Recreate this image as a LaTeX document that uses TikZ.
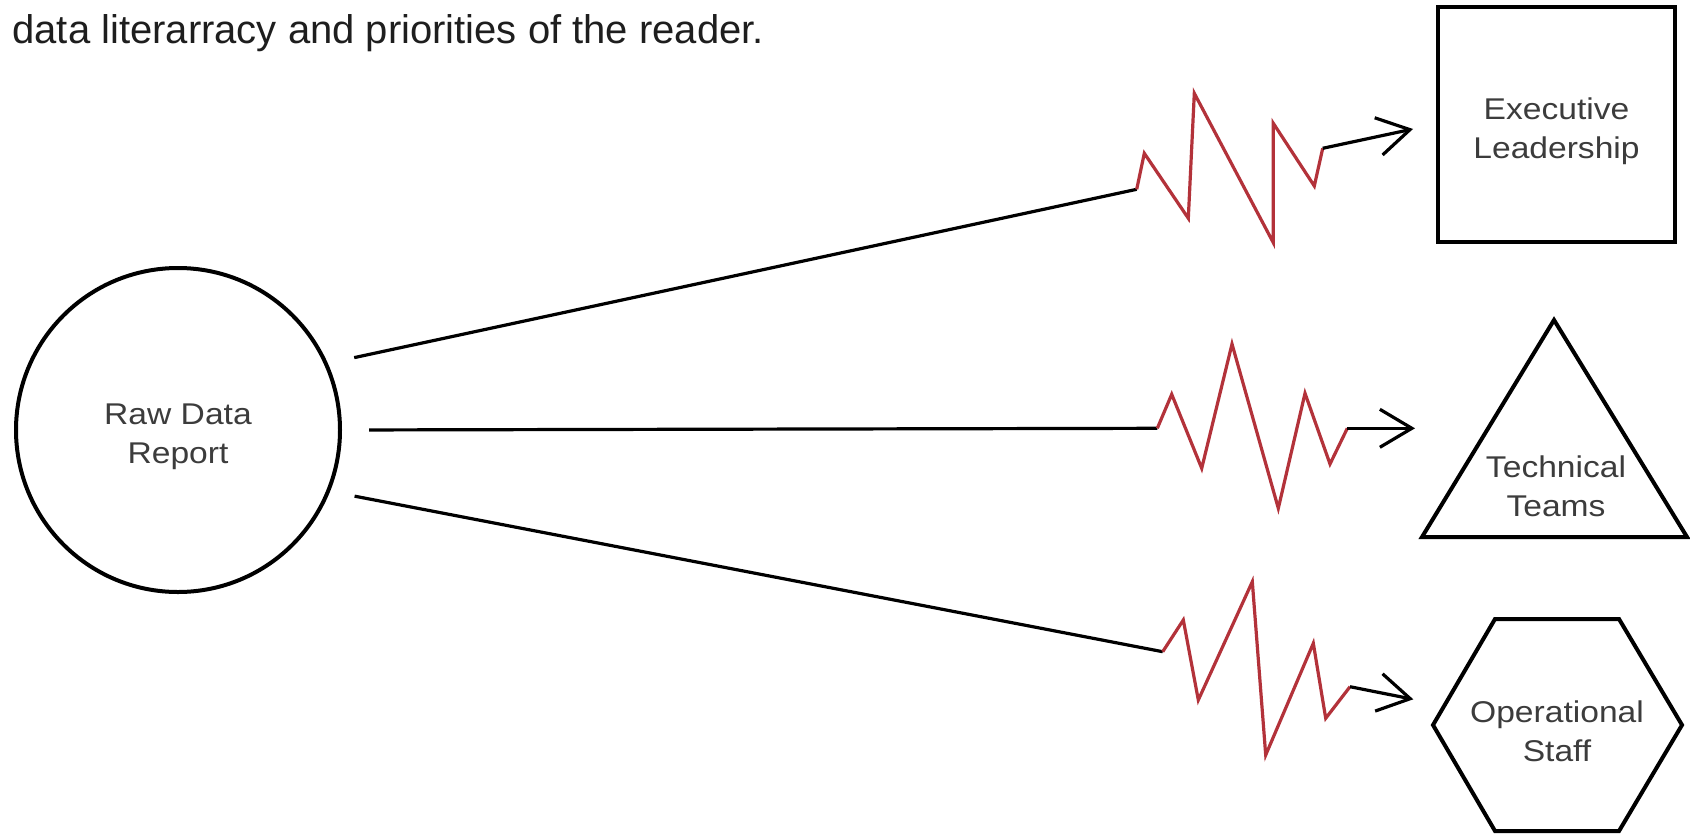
\documentclass[tikz,border=0pt]{standalone}
\usepackage{fontspec}
\setmainfont{Liberation Sans}
\newfontfamily\labfont[FakeStretch=1.12]{Liberation Sans}
\usetikzlibrary{arrows.meta}
\definecolor{zig}{HTML}{B3323A}
\definecolor{labgray}{HTML}{3C3C3C}
\definecolor{introcol}{HTML}{1E1E1E}
\begin{document}
\begin{tikzpicture}[x=0.5pt,y=-0.5pt,
  conn/.style={line width=1.6pt, draw=black},
  zz/.style={line width=1.6pt, draw=zig, line join=miter},
  arr/.style={conn, -{Straight Barb[length=16pt,width=19pt]}},
  lab/.style={font=\labfont\fontsize{15pt}{19.5pt}\selectfont, text=labgray, align=center, inner sep=0pt},
  shapeline/.style={line width=2pt, draw=black}]
\useasboundingbox (0,0) rectangle (1690,835);
\fill[white] (0,0) rectangle (1690,835);

% intro text
\node[anchor=base west, inner sep=0pt, font=\fontsize{20pt}{24pt}\selectfont, text=introcol] (intro) at (12,43) {data literarracy and priorities of the reader.};

% source
\node[circle, shapeline, minimum size=162pt, inner sep=0pt] (raw) at (178,430) {};
\node[lab] (rawlab) at (178,437) {Raw Data\\Report};

% audiences
\node[shapeline, minimum width=118.5pt, minimum height=117.5pt, inner sep=0pt] (exec) at (1556.5,124.5) {};
\node[lab] (execlab) at (1556.5,131) {Executive\\Leadership};
\draw[shapeline, line join=miter] (1422,537) -- (1554,320) -- (1687,537) -- cycle;
\node[lab] (tech) at (1556,486) {Technical\\Teams};
\draw[shapeline, line join=miter] (1433,725) -- (1495,619) -- (1619,619) -- (1682,725) -- (1619,831) -- (1495,831) -- cycle;
\node[lab] (ops) at (1557,731) {Operational\\Staff};

% zigzag points, top
\coordinate (a0) at (1136.7,189.3);
\coordinate (a1) at (1144.3,153.3);
\coordinate (a2) at (1188.3,218.3);
\coordinate (a3) at (1194.3,93.3);
\coordinate (a4) at (1273.3,242.7);
\coordinate (a5) at (1273.3,123.3);
\coordinate (a6) at (1314.3,186);
\coordinate (a7) at (1322.7,148.3);
\coordinate (atip) at (1413,129);
% middle
\coordinate (b0) at (1157.3,428.3);
\coordinate (b1) at (1171.7,394.3);
\coordinate (b2) at (1201.7,468.3);
\coordinate (b3) at (1232,344);
\coordinate (b4) at (1278.3,508.3);
\coordinate (b5) at (1305,393.3);
\coordinate (b6) at (1330,464);
\coordinate (b7) at (1347.3,428.3);
\coordinate (btip) at (1415,428.3);
% bottom
\coordinate (c0) at (1162.7,651.7);
\coordinate (c1) at (1183.3,620);
\coordinate (c2) at (1198.3,700);
\coordinate (c3) at (1252.3,581.7);
\coordinate (c4) at (1265.7,755);
\coordinate (c5) at (1313.3,643.3);
\coordinate (c6) at (1325.7,718.3);
\coordinate (c7) at (1350,686.7);
\coordinate (ctip) at (1413.3,699.3);

% connectors
\draw[conn, shorten <=13.5pt] (raw.24) -- (a0);
\draw[zz] (a0) -- (a1) -- (a2) -- (a3) -- (a4) -- (a5) -- (a6) -- (a7);
\draw[arr] (a7) -- (atip);

\draw[conn, shorten <=13.5pt] (raw.0) -- (b0);
\draw[zz] (b0) -- (b1) -- (b2) -- (b3) -- (b4) -- (b5) -- (b6) -- (b7);
\draw[arr] (b7) -- (btip);

\draw[conn, shorten <=12.5pt] (raw.-22) -- (c0);
\draw[zz] (c0) -- (c1) -- (c2) -- (c3) -- (c4) -- (c5) -- (c6) -- (c7);
\draw[arr] (c7) -- (ctip);
\end{tikzpicture}
\end{document}
